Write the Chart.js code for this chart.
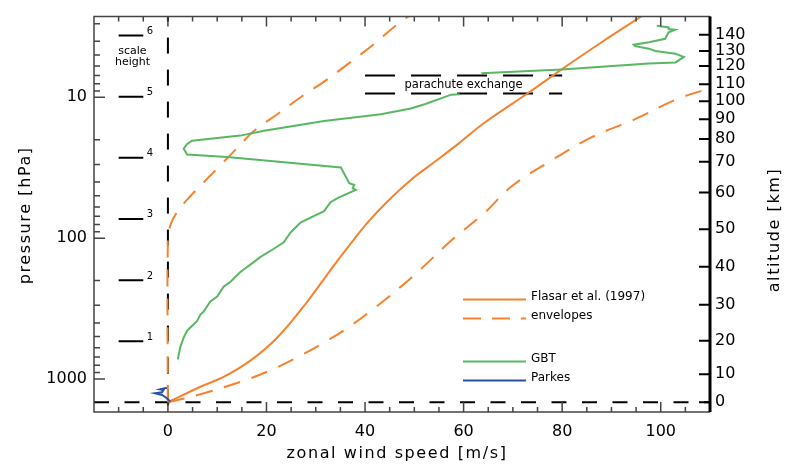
<!DOCTYPE html>
<html>
<head>
<meta charset="utf-8">
<script src="https://cdn.jsdelivr.net/npm/chart.js@4.4.0/dist/chart.umd.min.js"></script>
<style>
  html, body { margin: 0; padding: 0; background: #fff; }
  canvas { display: block; }
</style>
</head>
<body>
<canvas id="wind" width="792" height="465"></canvas>
<script>
// axis ranges
var windRange = [-15, 110];
var pressureRange = [2.67, 1718];
var surfacePressure = 1467;

// Flasar et al. (1997) model and its envelopes
var flasarWind     = [0, 6.6, 11.3, 16.8, 22.2, 28.3, 33.7, 37.8, 40.5, 44.6, 49.3, 54.1, 58.9, 64.3, 73.1, 79.9, 88.0, 96.2];
var flasarPressure = [1467, 1137, 968, 739, 508, 282, 156, 101.6, 77.6, 54.7, 38.6, 28.8, 21.4, 15.1, 9.32, 6.33, 4.06, 2.64];

var lowEnvWind     = [0, 0, 0.7, 2.2, 3.9, 7.0, 10.6, 13.0, 17.5, 22.2, 27.6, 31.7, 37.1, 41.9, 46.6, 50.0];
var lowEnvPressure = [1467, 100, 77.6, 62.7, 53.3, 41, 30.5, 25, 17.3, 13.2, 9.6, 7.73, 5.6, 4.17, 3.02, 2.5];

var highEnvWind     = [0, 6.6, 14.7, 20.8, 26.3, 31.7, 36.5, 41.9, 47.3, 51.4, 57.5, 64.3, 69.7, 77.9, 86.0, 94.8, 103.0, 110];
var highEnvPressure = [1467, 1285, 1050, 869, 701, 551, 433, 314, 221, 165, 104, 66, 43, 28, 19.2, 14.3, 10.4, 8.6];

// GBT profile (null = no data during parachute exchange)
var gbtWind = [2.0, 2.5, 3.2, 3.9, 4.5, 5.9, 6.6, 7.3, 8.6, 10.0, 11.3, 12.7, 14.7, 17.4, 18.8, 21.5, 23.5, 24.9,
  26.9, 30.3, 31.7, 33.0, 34.4, 38.1, 37.5, 37.8, 36.8, 35.1, 26.9, 12.0, 3.9, 3.2, 3.9, 4.9, 14.7, 19.5, 31.7,
  43.2, 49.3, 52.1, 57.5, 59.2, null,
  63.6, 79.9, 88.0, 97.6, 103.0, 104.7, 103.0, 98.9, 97.6, 94.8, 94.5, 97.6, 100.9, 101.6, 102.9, 101.6, 101.6, 99.2];
var gbtPressure = [728, 597, 508, 456, 433, 389, 349, 331, 282, 260, 221, 204, 174, 148, 136, 119, 107, 91.2,
  77.6, 67.9, 64.3, 55.6, 51.9, 45.4, 44.2, 41.9, 40.7, 31.5, 29.6, 26.5, 25.5, 23.2, 21.4, 20.3, 18.7, 17.3, 14.7,
  13.2, 12.0, 11.2, 9.57, 9.5, null,
  6.75, 6.33, 6.07, 5.74, 5.65, 5.16, 4.90, 4.69, 4.51, 4.33, 4.23, 4.06, 3.84, 3.45, 3.31, 3.27, 3.19, 3.10];

// Parkes profile
var parkesWind     = [0.5, -0.2, -1.2, -2.6, -1.2, -0.9, -1.6, -0.2];
var parkesPressure = [1450, 1372, 1300, 1265, 1245, 1199, 1186, 1156];

// parachute exchange band
var parachuteWind = [40, 80];
var parachutePressure = [7.0, 9.4];

// scale height markers
var scaleHeightLabels = ['1', '2', '3', '4', '5', '6'];
var scaleHeightPressure = [540, 199, 73, 26.9, 9.9, 3.64];

// axis ticks
var pressureTicks = [3, 4, 5, 6, 7, 8, 9, 10, 20, 30, 40, 50, 60, 70, 80, 90, 100, 200, 300, 400, 500, 600, 700, 800, 900, 1000];
var pressureLabels = [10, 100, 1000];
var altitudeLabels = [0, 10, 20, 30, 40, 50, 60, 70, 80, 90, 100, 110, 120, 130, 140];
var altitudePressure = [1467, 927, 536, 297, 160, 86.5, 47.4, 28.7, 19.8, 14.3, 10.66, 8.06, 6.0, 4.69, 3.6];

var legendLabels = ['Flasar et al. (1997)', 'envelopes', 'GBT', 'Parkes'];

var orange = '#f5822f';
var green = '#58b862';
var blue = '#2a4fa3';

function pairs(xs, ys) {
  return xs.map(function (v, i) {
    return v === null ? { x: null, y: null } : { x: v, y: ys[i] };
  });
}

var markerData = [];
scaleHeightPressure.forEach(function (p) {
  markerData.push({ x: -10, y: p }, { x: -5, y: p }, { x: null, y: null });
});

Chart.defaults.font.family = "'DejaVu Sans', sans-serif";
Chart.defaults.color = '#000';

var annotate = {
  id: 'annotate',
  afterDatasetsDraw: function (chart) {
    var ctx = chart.ctx, a = chart.chartArea;
    var sx = chart.scales.x, sy = chart.scales.y, sy2 = chart.scales.y2;
    ctx.save();

    // frame and inward ticks
    ctx.strokeStyle = '#444';
    ctx.lineWidth = 1.5;
    ctx.beginPath();
    ctx.moveTo(a.right, a.top); ctx.lineTo(a.left, a.top);
    ctx.lineTo(a.left, a.bottom); ctx.lineTo(a.right, a.bottom);
    sx.ticks.forEach(function (t) {
      var px = sx.getPixelForValue(t.value);
      var len = t.value % 20 === 0 ? 10 : 5;
      ctx.moveTo(px, a.bottom); ctx.lineTo(px, a.bottom - len);
      ctx.moveTo(px, a.top); ctx.lineTo(px, a.top + len);
    });
    sy.ticks.forEach(function (t) {
      var py = sy.getPixelForValue(t.value);
      var len = pressureLabels.indexOf(t.value) >= 0 ? 11 : 6;
      ctx.moveTo(a.left, py); ctx.lineTo(a.left + len, py);
    });
    ctx.stroke();

    ctx.strokeStyle = '#000';
    ctx.lineWidth = 2;
    ctx.beginPath();
    sy2.ticks.forEach(function (t) {
      var py = sy2.getPixelForValue(t.value);
      ctx.moveTo(a.right, py); ctx.lineTo(a.right - 11, py);
    });
    ctx.stroke();
    ctx.lineWidth = 3;
    ctx.beginPath();
    ctx.moveTo(a.right, a.top); ctx.lineTo(a.right, a.bottom);
    ctx.stroke();

    // scale height numbers
    ctx.fillStyle = '#000';
    ctx.font = "10px 'DejaVu Sans'";
    ctx.textAlign = 'left';
    ctx.textBaseline = 'middle';
    scaleHeightPressure.forEach(function (p, i) {
      ctx.fillText(scaleHeightLabels[i], sx.getPixelForValue(-4.3), sy.getPixelForValue(p) - 4);
    });
    var y6 = sy.getPixelForValue(scaleHeightPressure[5]);
    ctx.font = "11px 'DejaVu Sans'";
    ctx.textAlign = 'center';
    ctx.fillText('scale', sx.getPixelForValue(-7.2), y6 + 16);
    ctx.fillText('height', sx.getPixelForValue(-7.2), y6 + 27);

    // parachute exchange label
    ctx.font = "11.5px 'DejaVu Sans'";
    ctx.fillText('parachute exchange',
      sx.getPixelForValue((parachuteWind[0] + parachuteWind[1]) / 2),
      (sy.getPixelForValue(parachutePressure[0]) + sy.getPixelForValue(parachutePressure[1])) / 2);

    // legend
    var rowY = [283, 302, 345, 364];
    var lx = a.left + 369;
    ctx.font = "12px 'DejaVu Sans'";
    ctx.textAlign = 'left';
    legendLabels.forEach(function (label, i) {
      var ds = chart.data.datasets.find(function (d) { return d.label === label; });
      var y = a.top + rowY[i];
      ctx.save();
      ctx.strokeStyle = ds.borderColor;
      ctx.lineWidth = 2;
      ctx.setLineDash(ds.borderDash ? [18, 11] : []);
      ctx.beginPath();
      ctx.moveTo(lx, y); ctx.lineTo(lx + 63, y);
      ctx.stroke();
      ctx.restore();
      ctx.fillText(label, lx + 68, y - 3);
    });

    // axis titles
    ctx.font = "16px 'DejaVu Sans'";
    ctx.letterSpacing = '1.6px';
    ctx.textAlign = 'center';
    ctx.textBaseline = 'alphabetic';
    ctx.fillText('zonal wind speed [m/s]', (a.left + a.right) / 2 - 5, 458);
    ctx.save();
    ctx.translate(30, (a.top + a.bottom) / 2 + 1);
    ctx.rotate(-Math.PI / 2);
    ctx.fillText('pressure [hPa]', 0, 0);
    ctx.restore();
    ctx.save();
    ctx.translate(779, 230);
    ctx.rotate(-Math.PI / 2);
    ctx.fillText('altitude [km]', 0, 0);
    ctx.restore();
    ctx.letterSpacing = '0px';

    ctx.restore();
  }
};

new Chart(document.getElementById('wind'), {
  type: 'scatter',
  data: {
    datasets: [
      { label: 'Parkes', data: pairs(parkesWind, parkesPressure), borderColor: blue },
      { label: 'GBT', data: pairs(gbtWind, gbtPressure), borderColor: green, borderWidth: 2 },
      { label: 'Flasar et al. (1997)', data: pairs(flasarWind, flasarPressure), borderColor: orange, tension: 0.35 },
      { label: 'envelopes', data: pairs(highEnvWind, highEnvPressure), borderColor: orange, borderDash: [17, 12], tension: 0.35 },
      { label: 'lower envelope', data: pairs(lowEnvWind, lowEnvPressure), borderColor: orange, borderDash: [17, 12], tension: 0.35 },
      { label: 'zero', data: [{ x: 0, y: pressureRange[0] }, { x: 0, y: pressureRange[1] }], borderColor: '#000', borderDash: [16, 16], borderDashOffset: 11 },
      { label: 'surface', data: [{ x: windRange[0], y: surfacePressure }, { x: windRange[1], y: surfacePressure }], borderColor: '#000', borderDash: [15, 15.5] },
      { label: 'parachute top', data: [{ x: parachuteWind[0], y: parachutePressure[0] }, { x: parachuteWind[1], y: parachutePressure[0] }], borderColor: '#000', borderDash: [30, 16] },
      { label: 'parachute bottom', data: [{ x: parachuteWind[0], y: parachutePressure[1] }, { x: parachuteWind[1], y: parachutePressure[1] }], borderColor: '#000', borderDash: [30, 16] },
      { label: 'scale height', data: markerData, borderColor: '#000' }
    ]
  },
  options: {
    responsive: false,
    animation: false,
    showLine: true,
    layout: { padding: { top: 11, left: 0, right: 0, bottom: 0 } },
    plugins: { legend: { display: false }, tooltip: { enabled: false } },
    elements: { point: { radius: 0 }, line: { borderWidth: 2, fill: false } },
    scales: {
      x: {
        type: 'linear', min: windRange[0], max: windRange[1],
        grid: { display: false, drawTicks: false }, border: { display: false },
        ticks: {
          stepSize: 5, autoSkip: false, maxRotation: 0, padding: 10, font: { size: 16 },
          callback: function (v) { return v % 20 === 0 ? String(v) : ''; }
        },
        afterFit: function (s) { s.height = 53; }
      },
      y: {
        type: 'logarithmic', position: 'left', reverse: true, bounds: 'data',
        min: pressureRange[0], max: pressureRange[1],
        grid: { display: false, drawTicks: false }, border: { display: false },
        afterBuildTicks: function (s) { s.ticks = pressureTicks.map(function (v) { return { value: v }; }); },
        ticks: {
          autoSkip: false, padding: 7, font: { size: 16 },
          callback: function (v) { return pressureLabels.indexOf(v) >= 0 ? String(v) : ''; }
        },
        afterFit: function (s) { s.width = 94; }
      },
      y2: {
        type: 'logarithmic', position: 'right', reverse: true, bounds: 'data',
        min: pressureRange[0], max: pressureRange[1],
        grid: { display: false, drawTicks: false }, border: { display: false },
        afterBuildTicks: function (s) { s.ticks = altitudePressure.map(function (v) { return { value: v }; }); },
        ticks: {
          autoSkip: false, padding: 5, font: { size: 16 },
          callback: function (v, i) { return String(altitudeLabels[i]); }
        },
        afterFit: function (s) { s.width = 82; }
      }
    }
  },
  plugins: [annotate]
});
</script>
</body>
</html>
